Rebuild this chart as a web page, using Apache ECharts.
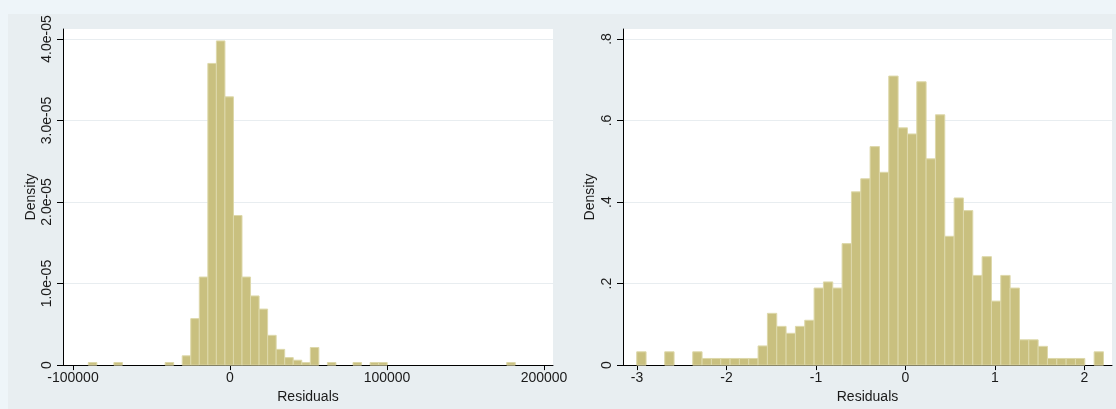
<!DOCTYPE html>
<html><head><meta charset="utf-8">
<script src="https://cdn.jsdelivr.net/npm/echarts@6/dist/echarts.min.js"></script>
<style>html,body{margin:0;padding:0;background:#eef5f9}#c{width:1116px;height:409px}</style>
</head><body><div id="c"></div>
<script>
// ---- data ----
const leftBinStart = -90255;
const leftBinWidth = 5439;
const leftDensity = [
  0.032e-5, 0, 0, 0.032e-5, 0, 0, 0, 0, 0, 0.032e-5,
  0, 0.114e-5, 0.57e-5, 1.08e-5, 3.70e-5, 3.976e-5, 3.29e-5, 1.835e-5, 1.08e-5, 0.848e-5,
  0.687e-5, 0.365e-5, 0.193e-5, 0.092e-5, 0.06e-5, 0.03e-5, 0.216e-5, 0, 0.032e-5, 0,
  0, 0.032e-5, 0, 0.032e-5, 0.032e-5, 0, 0, 0, 0, 0,
  0, 0, 0, 0, 0, 0, 0, 0, 0, 0.032e-5
];
const rightBinStart = -3.003;
const rightBinWidth = 0.1043;
const rightDensity = [
  0.0326, 0, 0, 0.0326, 0, 0, 0.0326, 0.0163, 0.0163, 0.0163,
  0.0163, 0.0163, 0.0163, 0.047, 0.127, 0.095, 0.078, 0.095, 0.110, 0.189,
  0.204, 0.189, 0.298, 0.425, 0.457, 0.536, 0.473, 0.709, 0.582, 0.567,
  0.695, 0.506, 0.614, 0.316, 0.410, 0.379, 0.220, 0.266, 0.157, 0.220,
  0.189, 0.062, 0.062, 0.046, 0.0163, 0.0163, 0.0163, 0.0163, 0, 0.0326
];
const leftXTicks = [-100000, 0, 100000, 200000];
const leftXTickLabels = ['-100000', '0', '100000', '200000'];
const leftYTicks = [0, 1e-5, 2e-5, 3e-5, 4e-5];
const leftYTickLabels = ['0', '1.0e-05', '2.0e-05', '3.0e-05', '4.0e-05'];
const rightXTicks = [-3, -2, -1, 0, 1, 2];
const rightXTickLabels = ['-3', '-2', '-1', '0', '1', '2'];
const rightYTicks = [0, 0.2, 0.4, 0.6, 0.8];
const rightYTickLabels = ['0', '.2', '.4', '.6', '.8'];
const xTitle = 'Residuals';
const yTitle = 'Density';

// ---- chart ----
const chart = echarts.init(document.getElementById('c'), null, {renderer: 'canvas'});
const FONT = 'Liberation Sans, Arial, sans-serif';
const TXT = '#1a1a1a';

function lookup(ticks, labels) {
  return function (v) {
    for (let i = 0; i < ticks.length; i++) {
      if (Math.abs(v - ticks[i]) <= Math.abs(ticks[ticks.length - 1] - ticks[0]) * 1e-6) return labels[i];
    }
    return '';
  };
}
function histData(start, width, dens) {
  return dens.map((d, i) => [start + i * width, start + (i + 1) * width, d]);
}
function renderBar(params, api) {
  const d = api.value(2);
  if (!d) return null;
  const p0 = api.coord([api.value(0), d]);
  const p1 = api.coord([api.value(1), 0]);
  return {
    type: 'rect',
    shape: {x: p0[0], y: p0[1], width: p1[0] - p0[0], height: p1[1] - p0[1]},
    style: {fill: '#c9c07f', stroke: '#ddd8aa', lineWidth: 1}
  };
}
function xAxisCfg(idx, min, max, ticks, labels) {
  return {
    type: 'value', gridIndex: idx, min: min, max: max,
    name: xTitle, nameLocation: 'middle', nameGap: 22,
    nameTextStyle: {color: TXT, fontFamily: FONT, fontSize: 14},
    axisLine: {show: true, onZero: false, lineStyle: {color: '#000', width: 1}},
    axisTick: {show: true, length: 5, customValues: ticks, lineStyle: {color: '#000'}},
    axisLabel: {customValues: ticks, formatter: lookup(ticks, labels), color: TXT, fontFamily: FONT, fontSize: 14, margin: 6},
    splitLine: {show: false}
  };
}
function yAxisCfg(idx, min, max, ticks, labels, gap) {
  return {
    type: 'value', gridIndex: idx, min: min, max: max,
    name: yTitle, nameLocation: 'middle', nameGap: gap, nameRotate: 90,
    nameTextStyle: {color: TXT, fontFamily: FONT, fontSize: 14},
    axisLine: {show: true, onZero: false, lineStyle: {color: '#000', width: 1}},
    axisTick: {show: true, length: 6, customValues: ticks, lineStyle: {color: '#000'}},
    axisLabel: {customValues: ticks, rotate: 90, formatter: lookup(ticks, labels), color: TXT, fontFamily: FONT, fontSize: 14, margin: 9},
    splitLine: {show: true, lineStyle: {color: '#e8edf0', width: 1}}
  };
}

chart.setOption({
  backgroundColor: '#eef5f9',
  animation: false,
  graphic: [{
    type: 'rect', z: -10, silent: true,
    shape: {x: 8, y: 14, width: 1108, height: 395},
    style: {fill: '#e8eef1'}
  }],
  grid: [
    {left: 63, top: 29, width: 490, height: 337, show: true, backgroundColor: '#ffffff', borderWidth: 0},
    {left: 623, top: 29, width: 489, height: 337, show: true, backgroundColor: '#ffffff', borderWidth: 0}
  ],
  xAxis: [
    xAxisCfg(0, -106369, 205732, leftXTicks, leftXTickLabels),
    xAxisCfg(1, -3.1564, 2.3073, rightXTicks, rightXTickLabels)
  ],
  yAxis: [
    yAxisCfg(0, 0, 4.1223e-5, leftYTicks, leftYTickLabels, 25),
    yAxisCfg(1, 0, 0.8245, rightYTicks, rightYTickLabels, 26)
  ],
  series: [
    {type: 'custom', xAxisIndex: 0, yAxisIndex: 0, renderItem: renderBar, encode: {x: [0, 1], y: 2},
     data: histData(leftBinStart, leftBinWidth, leftDensity)},
    {type: 'custom', xAxisIndex: 1, yAxisIndex: 1, renderItem: renderBar, encode: {x: [0, 1], y: 2},
     data: histData(rightBinStart, rightBinWidth, rightDensity)}
  ]
});
</script>
</body></html>
